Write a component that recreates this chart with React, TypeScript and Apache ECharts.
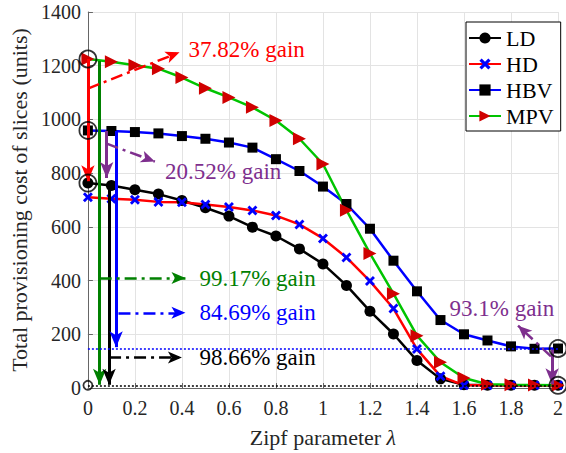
import React, { useEffect, useRef } from 'react';
import * as echarts from 'echarts';

const lambdas = [0, 0.1, 0.2, 0.3, 0.4, 0.5, 0.6, 0.7, 0.8, 0.9, 1.0, 1.1, 1.2, 1.3, 1.4, 1.5, 1.6, 1.7, 1.8, 1.9, 2.0];
const ldCost = [763, 754, 738, 722, 698, 671, 640, 599, 566, 518, 462, 382, 286, 201, 102, 34, 12, 10, 10, 10, 10];
const hdCost = [710, 705, 701, 693, 692, 683, 674, 661, 642, 609, 557, 486, 398, 296, 145, 44, 10, 10, 10, 10, 10];
const hbvCost = [959, 957, 953, 948, 938, 928, 914, 895, 852, 808, 750, 685, 593, 474, 360, 253, 200, 177, 155, 146, 147];
const mpvCost = [1225, 1215, 1202, 1189, 1156, 1116, 1082, 1045, 996, 928, 834, 662, 501, 351, 195, 96, 37, 14, 12, 11, 10];

const seriesNames = ['LD', 'HD', 'HBV', 'MPV'];

// highlighted points (open circles): [lambda, cost, size]
const circledPoints: [number, number, number][] = [
  [0, 1225, 17], [0, 959, 17], [0, 763, 17], [0, 10, 9], [2, 147, 17], [2, 10, 17],
];

// solid vertical arrows
const solidArrows: { from: [number, number]; to: [number, number]; color: string }[] = [
  { from: [0, 1225], to: [0, 770], color: '#ff0000' },
  { from: [0.05, 1218], to: [0.05, 12], color: '#008000' },
  { from: [0.09, 756], to: [0.09, 12], color: '#000000' },
  { from: [0.12, 957], to: [0.12, 152], color: '#0000ff' },
  { from: [0.08, 957], to: [0.08, 782], color: '#7e2f8e' },
  { from: [1.975, 145], to: [1.975, 14], color: '#7e2f8e' },
];

// dash-dot arrows pointing at the gain labels
const dashArrows: { from: [number, number]; to: [number, number]; color: string }[] = [
  { from: [0, 1115], to: [0.39, 1250], color: '#ff0000' },
  { from: [0.08, 910], to: [0.285, 843], color: '#7e2f8e' },
  { from: [0.05, 410], to: [0.415, 410], color: '#008000' },
  { from: [0.13, 280], to: [0.415, 280], color: '#0000ff' },
  { from: [0.09, 114], to: [0.40, 114], color: '#000000' },
  { from: [1.97, 118], to: [1.83, 232], color: '#7e2f8e' },
];

const gainLabels: { text: string; at: [number, number]; color: string }[] = [
  { text: '37.82% gain', at: [0.407, 1260], color: '#ff0000' },
  { text: '20.52% gain', at: [0.307, 807], color: '#7e2f8e' },
  { text: '99.17% gain', at: [0.453, 409], color: '#008000' },
  { text: '84.69% gain', at: [0.453, 280], color: '#0000ff' },
  { text: '98.66% gain', at: [0.453, 114], color: '#000000' },
  { text: '93.1% gain', at: [1.517, 295], color: '#7e2f8e' },
];

// dotted reference levels
const refLevels: { y: number; color: string }[] = [
  { y: 147, color: '#0000ff' },
  { y: 10, color: '#000000' },
];

const FONT = 'Liberation Serif';
const xMark = 'path://M2,0 L5,3 L8,0 L10,2 L7,5 L10,8 L8,10 L5,7 L2,10 L0,8 L3,5 L0,2 Z';
const fontCss = ".zipf-chart text, .zipf-chart tspan { font-family: 'Liberation Serif', 'Times New Roman', serif !important; }";

function pairs(vals: number[]) {
  return lambdas.map((x, i) => [x, vals[i]]);
}

function buildOption(): any {
  const markLineData: any[] = [];
  solidArrows.forEach((a) => {
    const ls = { color: a.color, width: 3, type: 'solid' };
    markLineData.push([
      { coord: a.from, symbol: 'none', lineStyle: ls },
      { coord: a.to, symbol: 'arrow', symbolSize: [10, 16], lineStyle: ls },
    ]);
  });
  dashArrows.forEach((a) => {
    const ls = { color: a.color, width: 2.5, type: [12, 5, 3, 5] };
    markLineData.push([
      { coord: a.from, symbol: 'none', lineStyle: ls },
      { coord: a.to, symbol: 'arrow', symbolSize: [9, 14], lineStyle: ls },
    ]);
  });
  refLevels.forEach((r) => {
    const ls = { color: r.color, width: 1.5, type: [2, 2] };
    markLineData.push([
      { coord: [lambdas[0], r.y], symbol: 'none', lineStyle: ls },
      { coord: [lambdas[lambdas.length - 1], r.y], symbol: 'none', lineStyle: ls },
    ]);
  });

  const markPointData = gainLabels.map((g) => ({
    coord: g.at,
    symbolSize: 0,
    label: {
      show: true,
      position: 'right',
      formatter: g.text,
      color: g.color,
      fontSize: 23,
      fontFamily: FONT,
    },
  }));

  return {
    animation: false,
    grid: { left: 83.5, right: 4, top: 12, bottom: 61 },
    legend: {
      data: seriesNames,
      orient: 'vertical',
      left: 466,
      top: 22,
      padding: [5, 7, 4, 2],
      itemGap: 4,
      itemWidth: 32,
      itemHeight: 14,
      itemTextGap: 3,
      borderColor: '#000',
      borderWidth: 1,
      borderRadius: 0,
      backgroundColor: '#fff',
      textStyle: { fontSize: 22, fontFamily: FONT, color: '#000', lineHeight: 22 },
    },
    xAxis: {
      type: 'value',
      min: 0,
      max: 2,
      interval: 0.2,
      name: '{n|Zipf parameter }{l|λ}',
      nameLocation: 'middle',
      nameGap: 38,
      nameTextStyle: {
        fontSize: 22,
        fontFamily: FONT,
        color: '#262626',
        rich: {
          n: { fontSize: 22, fontFamily: FONT, color: '#262626' },
          l: { fontSize: 22, fontFamily: FONT, fontStyle: 'italic', color: '#262626' },
        },
      },
      axisLine: { show: true, lineStyle: { color: '#666', width: 1 } },
      axisTick: { show: true, inside: true, length: 5, lineStyle: { color: '#666' } },
      axisLabel: {
        fontSize: 20,
        fontFamily: FONT,
        color: '#262626',
        margin: 10,
        formatter: (v: number) => String(Math.round(v * 10) / 10),
      },
      splitLine: { show: true, lineStyle: { color: '#e3e3e3', width: 1 } },
    },
    yAxis: {
      type: 'value',
      min: 0,
      max: 1400,
      interval: 200,
      name: 'Total provisioning cost of slices (units)',
      nameLocation: 'middle',
      nameGap: 53,
      nameTextStyle: { fontSize: 22, fontFamily: FONT, color: '#262626' },
      axisLine: { show: true, lineStyle: { color: '#666', width: 1 } },
      axisTick: { show: true, inside: true, length: 5, lineStyle: { color: '#666' } },
      axisLabel: {
        fontSize: 20, fontFamily: FONT, color: '#262626', margin: 7,
        formatter: (v: number) => String(Math.round(v)),
      },
      splitLine: { show: true, lineStyle: { color: '#e3e3e3', width: 1 } },
    },
    series: [
      {
        name: 'LD', type: 'line', data: pairs(ldCost), clip: false,
        symbol: 'circle', symbolSize: 11,
        lineStyle: { color: '#000', width: 2.5 }, itemStyle: { color: '#000' },
      },
      {
        name: 'HD', type: 'line', data: pairs(hdCost), clip: false,
        symbol: xMark, symbolSize: 10,
        lineStyle: { color: '#ff0000', width: 2.5 }, itemStyle: { color: '#0000ff' },
      },
      {
        name: 'HBV', type: 'line', data: pairs(hbvCost), clip: false,
        symbol: 'rect', symbolSize: 10,
        lineStyle: { color: '#0000ff', width: 2.5 }, itemStyle: { color: '#000' },
      },
      {
        name: 'MPV', type: 'line', data: pairs(mpvCost), clip: false,
        symbol: 'triangle', symbolSize: 13, symbolRotate: -90,
        lineStyle: { color: '#00c400', width: 2.5 }, itemStyle: { color: '#d00000' },
      },
      {
        name: 'annotations', type: 'line', data: [], clip: false, silent: true, z: 5,
        markLine: {
          silent: true, animation: false, label: { show: false },
          emphasis: { disabled: true },
          data: markLineData,
        },
        markPoint: {
          silent: true, animation: false,
          data: markPointData,
        },
      },
      {
        name: 'circles', type: 'scatter', clip: false, silent: true, z: 6,
        data: circledPoints.map((p) => ({ value: [p[0], p[1]], symbolSize: p[2] })),
        symbol: 'circle',
        itemStyle: { color: 'rgba(0,0,0,0)', borderColor: '#000', borderWidth: 1.8 },
      },
    ],
  };
}

export default function App() {
  const ref = useRef<HTMLDivElement>(null);
  useEffect(() => {
    document.body.style.margin = '0';
    const chart = echarts.init(ref.current!, null, { renderer: 'svg' });
    chart.setOption(buildOption());
    return () => {
      chart.dispose();
    };
  }, []);
  return (
    <>
      <style>{fontCss}</style>
      <div className="zipf-chart" ref={ref} style={{ width: 566, height: 453 }} />
    </>
  );
}
